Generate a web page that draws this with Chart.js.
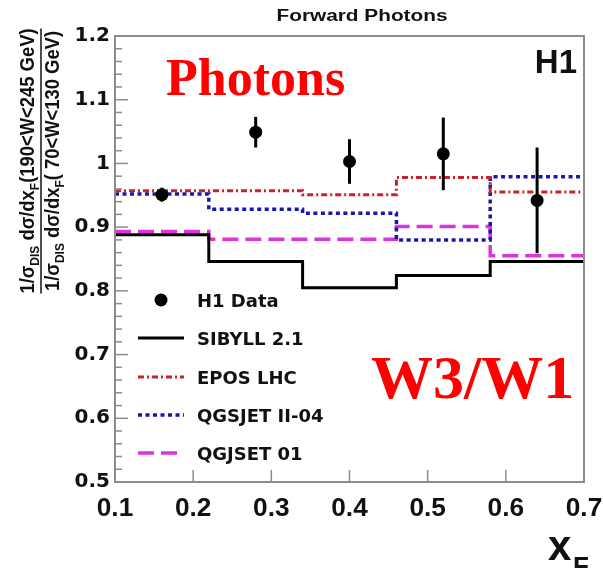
<!DOCTYPE html>
<html>
<head>
<meta charset="utf-8">
<title>Forward Photons</title>
<script src="https://cdn.jsdelivr.net/npm/chart.js@4.4.0/dist/chart.umd.min.js"></script>
<style>
  html, body { margin: 0; padding: 0; background: #fff; }
  #wrap { width: 603px; height: 568px; }
</style>
</head>
<body>
<div id="wrap"><canvas id="ratioChart" width="603" height="568"></canvas></div>
<script>
// x_F bins and bin centres
const binEdges = [0.1, 0.22, 0.34, 0.46, 0.58, 0.7];
const xF = [0.16, 0.28, 0.40, 0.52, 0.64];

// H1 measurement: ratio and its uncertainty
const h1Ratio = [0.951, 1.049, 1.003, 1.015, 0.942];
const h1Err = [0.011, 0.024, 0.035, 0.057, 0.083];

// model predictions, one value per bin
const sibyll = [0.888, 0.846, 0.805, 0.824, 0.846];
const epos = [0.957, 0.957, 0.951, 0.978, 0.955];
const qgsjetII = [0.952, 0.928, 0.922, 0.880, 0.979];
const qgsjet01 = [0.893, 0.881, 0.881, 0.901, 0.855];

const seriesNames = ["H1 Data", "SIBYLL 2.1", "EPOS LHC", "QGSJET II-04", "QGJSET 01"];

const xTicks = [0.1, 0.2, 0.3, 0.4, 0.5, 0.6, 0.7];
const yTicks = [0.5, 0.6, 0.7, 0.8, 0.9, 1.0, 1.1, 1.2];

// histogram-like steps: each value holds until the next bin edge
function stepData(vals) {
  const pts = vals.map((v, i) => ({ x: binEdges[i], y: v }));
  pts.push({ x: binEdges[binEdges.length - 1], y: vals[vals.length - 1] });
  return pts;
}

function modelSet(label, vals, color, width, dash) {
  return {
    label: label,
    data: stepData(vals),
    borderColor: color,
    borderWidth: width,
    borderDash: dash,
    stepped: "before",
    pointRadius: 0,
    fill: false,
  };
}

function drawText(ctx, s, x, y, font, color, align, sx) {
  ctx.save();
  ctx.font = font;
  ctx.fillStyle = color;
  ctx.textAlign = align || "left";
  ctx.textBaseline = "alphabetic";
  ctx.translate(x, y);
  ctx.scale(sx || 1, 1);
  ctx.fillText(s, 0, 0);
  ctx.restore();
}

// pieces of a label: [text, subscript?]
function pieceWidth(ctx, parts, font, subFont) {
  let w = 0;
  parts.forEach(([t, sub]) => {
    ctx.font = sub ? subFont : font;
    w += ctx.measureText(t).width;
  });
  return w;
}

function drawPieces(ctx, parts, x, y, font, subFont) {
  let cx = x;
  parts.forEach(([t, sub]) => {
    ctx.font = sub ? subFont : font;
    ctx.fillText(t, cx, sub ? y + 5 : y);
    cx += ctx.measureText(t).width;
  });
}

const errorBars = {
  id: "errorBars",
  afterDatasetsDraw(chart) {
    const { ctx, scales: { x, y } } = chart;
    ctx.save();
    ctx.strokeStyle = "#000";
    ctx.lineWidth = 3;
    xF.forEach((xv, i) => {
      const px = x.getPixelForValue(xv);
      ctx.beginPath();
      ctx.moveTo(px, y.getPixelForValue(h1Ratio[i] - h1Err[i]));
      ctx.lineTo(px, y.getPixelForValue(h1Ratio[i] + h1Err[i]));
      ctx.stroke();
    });
    ctx.restore();
  },
};

const frameAndText = {
  id: "frameAndText",
  afterDraw(chart) {
    const { ctx, chartArea: a, scales: { x, y } } = chart;
    ctx.save();

    // frame
    ctx.strokeStyle = "#8c8c8c";
    ctx.lineWidth = 2;
    ctx.strokeRect(a.left, a.top, a.right - a.left, a.bottom - a.top);

    // inward ticks
    ctx.lineWidth = 1.5;
    for (let k = 1; k < 35; k++) {
      const py = y.getPixelForValue(0.5 + k * 0.02);
      const len = k % 5 === 0 ? 13 : 7;
      ctx.beginPath();
      ctx.moveTo(a.left, py);
      ctx.lineTo(a.left + len, py);
      ctx.stroke();
    }
    xTicks.slice(1, -1).forEach((v) => {
      const px = x.getPixelForValue(v);
      ctx.beginPath();
      ctx.moveTo(px, a.bottom);
      ctx.lineTo(px, a.bottom - 12);
      ctx.stroke();
    });

    // x tick labels
    xTicks.forEach((v) => {
      drawText(ctx, v.toFixed(1), x.getPixelForValue(v), a.bottom + 34,
        "bold 25px 'Liberation Sans'", "#111", "center", 1.05);
    });

    // legend
    const lx0 = 138, lx1 = 184, tx = 197;
    const rows = [300, 338, 377, 415, 453];
    ctx.fillStyle = "#000";
    ctx.beginPath();
    ctx.arc((lx0 + lx1) / 2, rows[0], 6.5, 0, Math.PI * 2);
    ctx.fill();
    chart.data.datasets.slice(1).forEach((ds, i) => {
      ctx.save();
      ctx.strokeStyle = ds.borderColor;
      ctx.lineWidth = ds.borderWidth;
      ctx.setLineDash(ds.borderDash || []);
      ctx.beginPath();
      ctx.moveTo(lx0, rows[i + 1]);
      ctx.lineTo(lx1, rows[i + 1]);
      ctx.stroke();
      ctx.restore();
    });
    seriesNames.forEach((n, i) => {
      drawText(ctx, n, tx, rows[i] + 6.5, "bold 18px 'DejaVu Sans'", "#111");
    });

    // title and labels
    drawText(ctx, "Forward Photons", 362, 21, "bold 16px 'Liberation Sans'", "#111", "center", 1.3);
    drawText(ctx, "H1", 577, 73, "bold 33px 'Liberation Sans'", "#111", "right");
    drawText(ctx, "Photons", 166, 95, "bold 52px 'Liberation Serif'", "#ff0000");
    drawText(ctx, "W3/W1", 371, 398, "bold 62px 'Liberation Serif'", "#ff0000");
    drawText(ctx, "x", 548, 560, "bold 42px 'Liberation Sans'", "#111");
    drawText(ctx, "F", 573, 575, "bold 26px 'Liberation Sans'", "#111");

    // y axis title as a fraction, rotated
    const font = "bold 20px 'Liberation Sans'";
    const subFont = "bold 13px 'Liberation Sans'";
    const num = [["1/\u03c3", false], ["DIS", true], [" d\u03c3/dx", false], ["F", true], ["(190<W<245 GeV)", false]];
    const den = [["1/\u03c3", false], ["DIS", true], [" d\u03c3/dx", false], ["F", true], ["( 70<W<130 GeV)", false]];
    const midY = 161;
    const squeeze = 0.92;
    const wn = pieceWidth(ctx, num, font, subFont);
    const wd = pieceWidth(ctx, den, font, subFont);
    ctx.fillStyle = "#111";
    ctx.save();
    ctx.translate(34, midY);
    ctx.rotate(-Math.PI / 2);
    ctx.scale(squeeze, 1);
    drawPieces(ctx, num, -wn / 2, 0, font, subFont);
    ctx.restore();
    ctx.save();
    ctx.translate(59, midY);
    ctx.rotate(-Math.PI / 2);
    ctx.scale(squeeze, 1);
    drawPieces(ctx, den, -wd / 2, 0, font, subFont);
    ctx.restore();
    const half = Math.max(wn, wd) * squeeze / 2;
    ctx.strokeStyle = "#111";
    ctx.lineWidth = 1.5;
    ctx.beginPath();
    ctx.moveTo(41, midY - half);
    ctx.lineTo(41, midY + half);
    ctx.stroke();

    ctx.restore();
  },
};

const whiteBg = {
  id: "whiteBg",
  beforeDraw(chart) {
    const ctx = chart.ctx;
    ctx.save();
    ctx.fillStyle = "#fff";
    ctx.fillRect(0, 0, chart.width, chart.height);
    ctx.restore();
  },
};

const ctx = document.getElementById("ratioChart").getContext("2d");
new Chart(ctx, {
  type: "line",
  data: {
    datasets: [
      {
        label: seriesNames[0],
        data: xF.map((v, i) => ({ x: v, y: h1Ratio[i] })),
        showLine: false,
        pointRadius: 6.5,
        pointBackgroundColor: "#000",
        pointBorderColor: "#000",
        pointBorderWidth: 0,
      },
      modelSet(seriesNames[1], sibyll, "#000000", 3, []),
      modelSet(seriesNames[2], epos, "#c8232a", 3, [6, 3, 2, 3]),
      modelSet(seriesNames[3], qgsjetII, "#1818a8", 3.5, [4, 3.5]),
      modelSet(seriesNames[4], qgsjet01, "#dd33dd", 3.5, [16, 7]),
    ],
  },
  options: {
    responsive: false,
    animation: false,
    devicePixelRatio: 1,
    layout: { padding: { top: 36, right: 19, left: 0, bottom: 0 } },
    plugins: { legend: { display: false }, tooltip: { enabled: false } },
    scales: {
      x: {
        type: "linear",
        min: 0.1,
        max: 0.7,
        afterBuildTicks: (s) => { s.ticks = xTicks.map((v) => ({ value: v })); },
        afterFit: (s) => { s.height = 86; },
        grid: { display: false, drawTicks: false },
        border: { display: false },
        ticks: { display: false },
      },
      y: {
        min: 0.5,
        max: 1.2,
        afterBuildTicks: (s) => { s.ticks = yTicks.map((v) => ({ value: v })); },
        afterFit: (s) => { s.width = 115; },
        grid: { display: false, drawTicks: false },
        border: { display: false },
        ticks: {
          padding: 5,
          color: "#111",
          font: { family: "'DejaVu Sans'", size: 20, weight: "bold" },
          callback: (v) => String(parseFloat(v.toFixed(1))),
        },
      },
    },
  },
  plugins: [whiteBg, errorBars, frameAndText],
});
</script>
</body>
</html>
